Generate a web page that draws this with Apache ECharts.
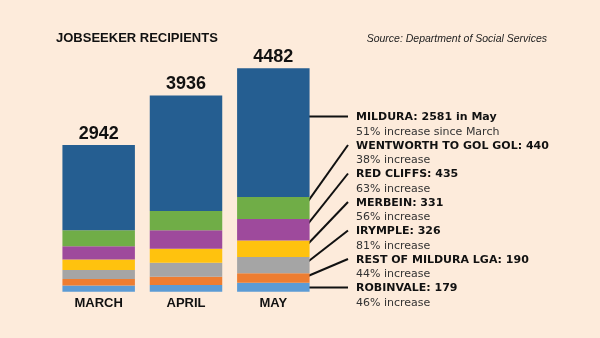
<!DOCTYPE html>
<html><head><meta charset="utf-8">
<script src="https://cdn.jsdelivr.net/npm/echarts@6/dist/echarts.min.js"></script>
<style>html,body{margin:0;padding:0;background:#fdebdb;}#c{width:600px;height:338px;}</style>
</head><body><div id="c"></div>
<script>
var categories = ['MARCH', 'APRIL', 'MAY'];
var robinvale = [123, 135, 179];
var restOfLGA = [132, 165, 190];
var irymple = [180, 280, 326];
var merbein = [212, 280, 331];
var redCliffs = [267, 375, 435];
var wentworth = [319, 385, 440];
var mildura = [1709, 2316, 2581];
var totals = [2942, 3936, 4482];

var seriesNames = ['ROBINVALE', 'REST OF MILDURA LGA', 'IRYMPLE', 'MERBEIN', 'RED CLIFFS', 'WENTWORTH TO GOL GOL', 'MILDURA'];
var seriesData = [robinvale, restOfLGA, irymple, merbein, redCliffs, wentworth, mildura];
var colors = ['#5b9bd5', '#ed7d31', '#a5a5a5', '#ffc20e', '#9e4a9c', '#70ad47', '#255e91'];

var annTitles = ['MILDURA: 2581 in May', 'WENTWORTH TO GOL GOL: 440', 'RED CLIFFS: 435', 'MERBEIN: 331', 'IRYMPLE: 326', 'REST OF MILDURA LGA: 190', 'ROBINVALE: 179'];
var annSubs = ['51% increase since March', '38% increase', '63% increase', '56% increase', '81% increase', '44% increase', '46% increase'];
var annSeries = [6, 5, 4, 3, 2, 1, 0];

var chart = echarts.init(document.getElementById('c'));
var series = seriesData.map(function (d, i) {
  var s = {
    name: seriesNames[i], type: 'bar', stack: 'total', data: d,
    barCategoryGap: '17%',
    itemStyle: { color: colors[i] },
    emphasis: { disabled: true },
    animation: false
  };
  if (i === seriesData.length - 1) {
    s.label = {
      show: true, position: 'top', distance: 2,
      formatter: function (p) { return String(totals[p.dataIndex]); },
      fontFamily: 'Liberation Sans, Arial, sans-serif', fontWeight: 'bold', fontSize: 18, color: '#111'
    };
  }
  return s;
});

chart.setOption({
  backgroundColor: '#fdebdb',
  animation: false,
  grid: { left: 55, width: 262, top: 42.5, bottom: 46.3 },
  xAxis: {
    type: 'category', data: categories,
    axisLine: { show: false }, axisTick: { show: false },
    axisLabel: { margin: 5, fontFamily: 'Liberation Sans, Arial, sans-serif', fontWeight: 'bold', fontSize: 13, color: '#111' }
  },
  yAxis: { type: 'value', min: 0, max: 5000, show: false, splitLine: { show: false } },
  series: series
});

var graphics = [];
graphics.push({ type: 'text', left: 56, top: 32, style: { text: 'JOBSEEKER RECIPIENTS', font: 'bold 13px "Liberation Sans", Arial, sans-serif', fill: '#111' } });
graphics.push({ type: 'text', right: 53, top: 34, style: { text: 'Source: Department of Social Services', font: 'italic 10.5px "Liberation Sans", Arial, sans-serif', fill: '#222' } });

var textX = 356;
var lineEndX = 348;
var baseY = 117.5, step = 28.5;
var mayX = chart.convertToPixel({ xAxisIndex: 0 }, 'MAY');
var startX = mayX + 30;
for (var k = 0; k < annTitles.length; k++) {
  var y = baseY + k * step;
  graphics.push({ type: 'text', x: textX, y: y, style: { text: annTitles[k], font: 'bold 11px "DejaVu Sans", sans-serif', fill: '#111', textVerticalAlign: 'middle' } });
  graphics.push({ type: 'text', x: textX, y: y + 14.5, style: { text: annSubs[k], font: '11px "DejaVu Sans", sans-serif', fill: '#333', textVerticalAlign: 'middle' } });
  var si = annSeries[k];
  var below = 0;
  for (var j = 0; j < si; j++) below += seriesData[j][2];
  var mid = below + seriesData[si][2] / 2;
  var sy = chart.convertToPixel({ yAxisIndex: 0 }, mid);
  if (k === 0 || k === annTitles.length - 1) sy = y - 1;
  graphics.push({ type: 'line', shape: { x1: startX, y1: sy, x2: lineEndX, y2: y - 1 }, style: { stroke: '#111', lineWidth: 2 } });
}
chart.setOption({ graphic: graphics });
</script>
</body></html>
